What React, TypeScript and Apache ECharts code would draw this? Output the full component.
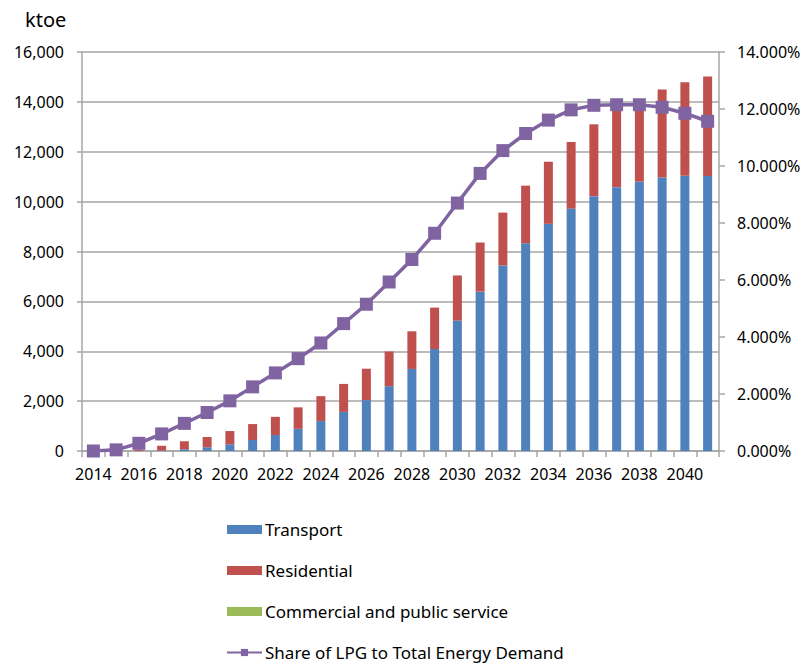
import React, { useEffect, useRef } from "react";
import * as echarts from "echarts";

const years = [
  "2014", "2015", "2016", "2017", "2018", "2019", "2020", "2021", "2022", "2023",
  "2024", "2025", "2026", "2027", "2028", "2029", "2030", "2031", "2032", "2033",
  "2034", "2035", "2036", "2037", "2038", "2039", "2040", "2041",
];

const transport = [
  0, 0, 5, 15, 70, 150, 270, 440, 640, 890,
  1200, 1570, 2040, 2600, 3290, 4090, 5230, 6390, 7440, 8330,
  9110, 9720, 10220, 10580, 10800, 10970, 11040, 11030,
];

const residential = [
  0, 10, 55, 195, 320, 410, 530, 640, 730, 860,
  1000, 1120, 1260, 1390, 1510, 1660, 1810, 1970, 2120, 2310,
  2490, 2670, 2880, 3170, 3300, 3530, 3750, 3990,
];

const commercial = [
  0, 0, 0, 0, 0, 0, 0, 0, 0, 0,
  0, 0, 0, 0, 0, 0, 0, 0, 0, 0,
  0, 0, 0, 0, 0, 0, 0, 0,
];

const sharePct = [
  0.0, 0.04, 0.27, 0.6, 0.97, 1.35, 1.76, 2.25, 2.74, 3.24,
  3.79, 4.47, 5.15, 5.93, 6.72, 7.64, 8.7, 9.74, 10.54, 11.14,
  11.61, 11.97, 12.13, 12.15, 12.15, 12.06, 11.85, 11.57,
];

const FONT = "'Noto Sans', sans-serif";
const GRID_COLOR = "#a6a6a6";

export default function App() {
  const ref = useRef<HTMLDivElement>(null);

  useEffect(() => {
    if (!ref.current) return;
    const chart = echarts.init(ref.current, null, { renderer: "svg" });
    chart.setOption({
      animation: false,
      backgroundColor: "#ffffff",
      textStyle: { fontFamily: FONT, color: "#000" },
      grid: { left: 82, right: 89, top: 52, bottom: 213, containLabel: false },
      graphic: [
        {
          type: "text",
          left: 25,
          top: 9,
          style: { text: "ktoe", font: `20px ${FONT}`, fill: "#000" },
        },
      ],
      legend: {
        orient: "vertical",
        left: 226,
        top: 521,
        padding: 0,
        height: 143,
        itemWidth: 35,
        itemHeight: 9,
        itemGap: 24,
        textStyle: {
          fontSize: 17,
          lineHeight: 17,
          fontFamily: FONT,
          color: "#000",
          padding: [0, 0, 0, -2],
        },
        data: [
          { name: "Transport", icon: "rect" },
          { name: "Residential", icon: "rect" },
          { name: "Commercial and public service", icon: "rect" },
          { name: "Share of LPG to Total Energy Demand" },
        ],
      },
      xAxis: {
        type: "category",
        data: years,
        boundaryGap: true,
        axisLine: { lineStyle: { color: GRID_COLOR, width: 1.5 } },
        axisTick: { show: true, interval: 0, length: 6, lineStyle: { color: GRID_COLOR, width: 1.5 } },
        axisLabel: { interval: 1, fontSize: 16, fontFamily: FONT, color: "#000", margin: 15 },
      },
      yAxis: [
        {
          type: "value",
          min: 0,
          max: 16000,
          interval: 2000,
          axisLine: { show: true, lineStyle: { color: GRID_COLOR, width: 1.5 } },
          axisTick: { show: true, length: 5, lineStyle: { color: GRID_COLOR, width: 1.5 } },
          splitLine: { show: true, lineStyle: { color: GRID_COLOR, width: 1.5 } },
          axisLabel: {
            fontSize: 16,
            fontFamily: FONT,
            color: "#000",
            margin: 18,
            formatter: (v: number) => v.toLocaleString("en-US"),
          },
        },
        {
          type: "value",
          min: 0,
          max: 14,
          interval: 2,
          position: "right",
          axisLine: { show: true, lineStyle: { color: GRID_COLOR, width: 1.5 } },
          axisTick: { show: true, length: 6, lineStyle: { color: GRID_COLOR, width: 1.5 } },
          splitLine: { show: false },
          axisLabel: {
            fontSize: 16,
            fontFamily: FONT,
            color: "#000",
            margin: 18,
            formatter: (v: number) => v.toFixed(3) + "%",
          },
        },
      ],
      series: [
        {
          name: "Transport",
          type: "bar",
          stack: "demand",
          barWidth: 9,
          itemStyle: { color: "#4f81bd" },
          data: transport,
        },
        {
          name: "Residential",
          type: "bar",
          stack: "demand",
          barWidth: 9,
          itemStyle: { color: "#c0504d" },
          data: residential,
        },
        {
          name: "Commercial and public service",
          type: "bar",
          stack: "demand",
          barWidth: 9,
          itemStyle: { color: "#9bbb59" },
          data: commercial,
        },
        {
          name: "Share of LPG to Total Energy Demand",
          type: "line",
          yAxisIndex: 1,
          symbol: "rect",
          symbolSize: 13,
          lineStyle: { color: "#8064a2", width: 3.5 },
          itemStyle: { color: "#8064a2" },
          data: sharePct,
          z: 5,
        },
      ],
    });
    return () => chart.dispose();
  }, []);

  return (
    <div
      ref={ref}
      style={{ position: "absolute", left: 0, top: 0, width: 808, height: 664 }}
    />
  );
}
